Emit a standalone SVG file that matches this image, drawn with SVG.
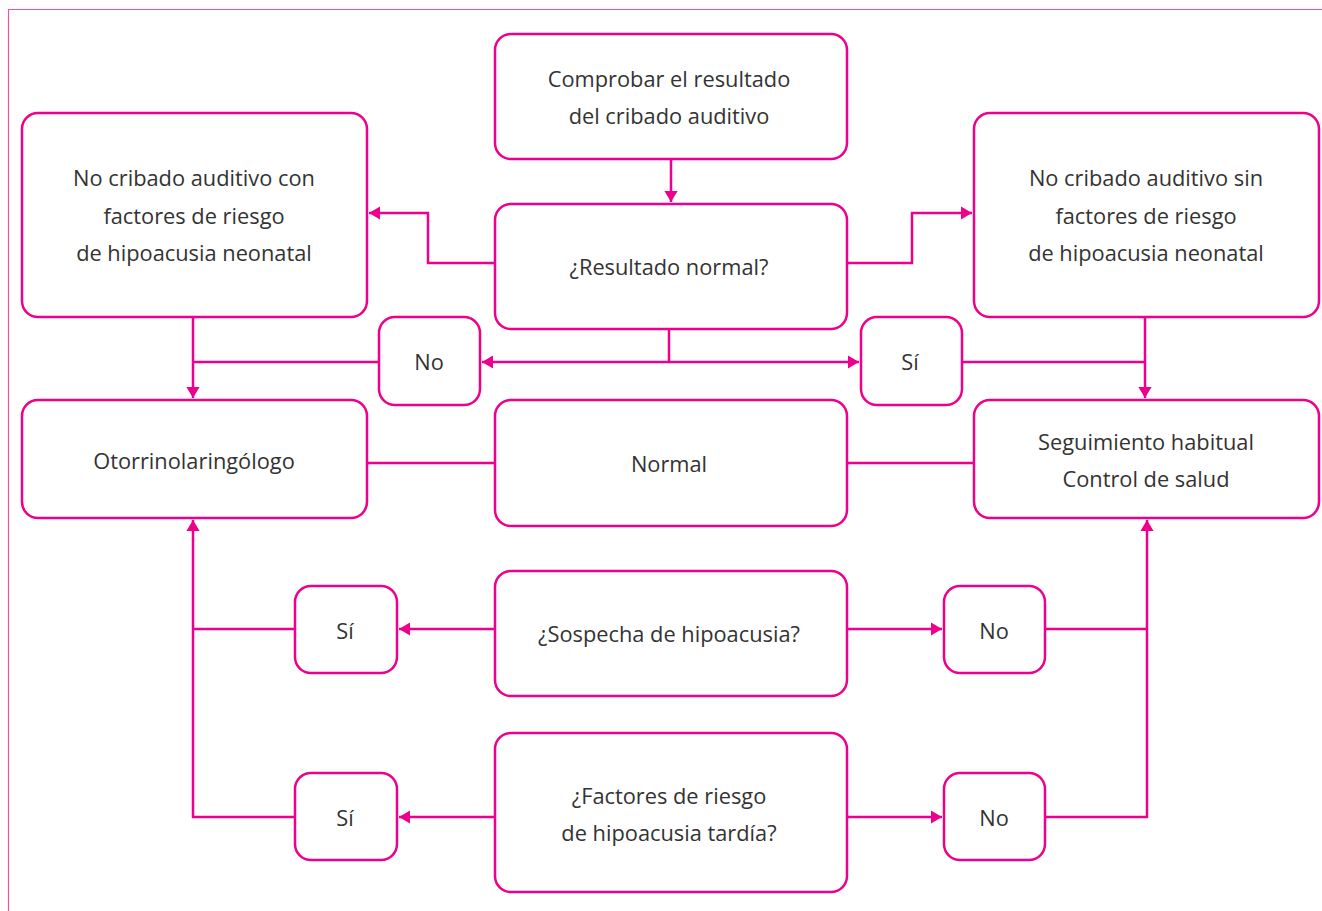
<svg xmlns="http://www.w3.org/2000/svg" width="1322" height="911" viewBox="0 0 1322 911">
<style>
.box{fill:#fff;stroke:#EC008C;stroke-width:2.5}
.c{fill:none;stroke:#EC008C;stroke-width:2.5}
.t{font-family:"Open Sans","Noto Sans",sans-serif;font-size:21.8px;fill:#333;text-anchor:middle;dominant-baseline:central}
</style>
<defs>
<marker id="a" viewBox="0 0 10 12" refX="10" refY="6" markerWidth="4.4" markerHeight="5.3" orient="auto" markerUnits="strokeWidth">
<path d="M0,0L10,6L0,12z" fill="#EC008C"/>
</marker>
</defs>
<rect width="1322" height="911" fill="#fff"/>
<path d="M1322,9.5H8.5V911" fill="none" stroke="#F050A8" stroke-width="1.2"/>
<g id="connectors">
<path class="c" d="M671,159V202" marker-end="url(#a)"/>
<path class="c" d="M495,263H428V213H369" marker-end="url(#a)"/>
<path class="c" d="M847,263H912V213H972" marker-end="url(#a)"/>
<path class="c" d="M193,317V398" marker-end="url(#a)"/>
<path class="c" d="M193,362H379"/>
<path class="c" d="M669,329V362"/>
<path class="c" d="M669,362H482" marker-end="url(#a)"/>
<path class="c" d="M669,362H859" marker-end="url(#a)"/>
<path class="c" d="M962,362H1145"/>
<path class="c" d="M1145,317V398" marker-end="url(#a)"/>
<path class="c" d="M367,463H495"/>
<path class="c" d="M847,463H974"/>
<path class="c" d="M495,629H399" marker-end="url(#a)"/>
<path class="c" d="M295,629H193"/>
<path class="c" d="M295,817H193V520" marker-end="url(#a)"/>
<path class="c" d="M495,817H399" marker-end="url(#a)"/>
<path class="c" d="M847,629H942" marker-end="url(#a)"/>
<path class="c" d="M1045,629H1147"/>
<path class="c" d="M847,817H942" marker-end="url(#a)"/>
<path class="c" d="M1045,817H1147V520" marker-end="url(#a)"/>
</g>
<g id="n1"><rect class="box" x="495" y="34" width="352" height="125" rx="16"/><text class="t" x="669" y="78">Comprobar el resultado</text><text class="t" x="669" y="115">del cribado auditivo</text></g>
<g id="n2"><rect class="box" x="495" y="204" width="352" height="125" rx="16"/><text class="t" x="669" y="266">¿Resultado normal?</text></g>
<g id="n3"><rect class="box" x="22" y="113" width="345" height="204" rx="16"/><text class="t" x="194" y="177">No cribado auditivo con</text><text class="t" x="194" y="215">factores de riesgo</text><text class="t" x="194" y="252">de hipoacusia neonatal</text></g>
<g id="n4"><rect class="box" x="974" y="113" width="345" height="204" rx="16"/><text class="t" x="1146" y="177">No cribado auditivo sin</text><text class="t" x="1146" y="215">factores de riesgo</text><text class="t" x="1146" y="252">de hipoacusia neonatal</text></g>
<g id="n5"><rect class="box" x="379" y="317" width="101" height="88" rx="16"/><text class="t" x="429" y="361">No</text></g>
<g id="n6"><rect class="box" x="861" y="317" width="101" height="88" rx="16"/><text class="t" x="910" y="361">Sí</text></g>
<g id="n7"><rect class="box" x="22" y="400" width="345" height="118" rx="16"/><text class="t" x="194" y="460">Otorrinolaringólogo</text></g>
<g id="n8"><rect class="box" x="495" y="400" width="352" height="126" rx="16"/><text class="t" x="669" y="463">Normal</text></g>
<g id="n9"><rect class="box" x="974" y="400" width="345" height="118" rx="16"/><text class="t" x="1146" y="441">Seguimiento habitual</text><text class="t" x="1146" y="478">Control de salud</text></g>
<g id="n10"><rect class="box" x="295" y="586" width="102" height="87" rx="16"/><text class="t" x="345" y="630">Sí</text></g>
<g id="n11"><rect class="box" x="495" y="571" width="352" height="125" rx="16"/><text class="t" x="669" y="633">¿Sospecha de hipoacusia?</text></g>
<g id="n12"><rect class="box" x="944" y="586" width="101" height="87" rx="16"/><text class="t" x="994" y="630">No</text></g>
<g id="n13"><rect class="box" x="295" y="773" width="102" height="87" rx="16"/><text class="t" x="345" y="817">Sí</text></g>
<g id="n14"><rect class="box" x="495" y="733" width="352" height="159" rx="16"/><text class="t" x="669" y="795">¿Factores de riesgo</text><text class="t" x="669" y="832">de hipoacusia tardía?</text></g>
<g id="n15"><rect class="box" x="944" y="773" width="101" height="87" rx="16"/><text class="t" x="994" y="817">No</text></g>
</svg>
